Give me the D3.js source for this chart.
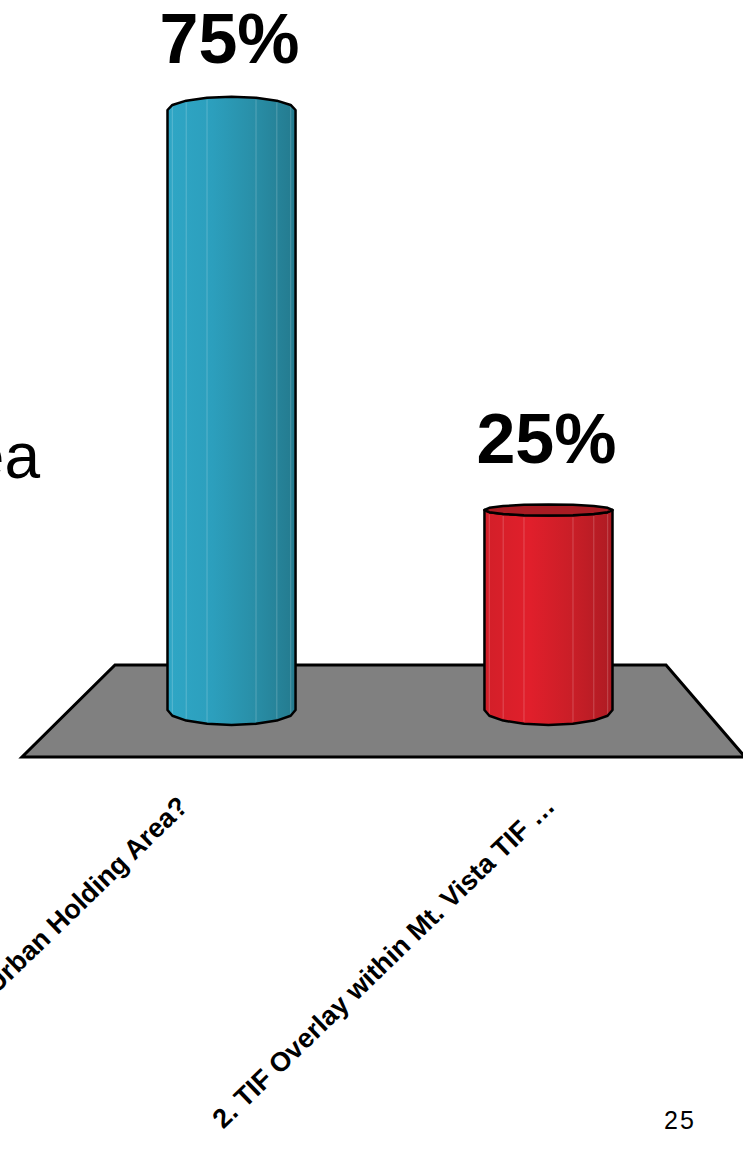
<!DOCTYPE html>
<html>
<head>
<meta charset="utf-8">
<script src="https://cdnjs.cloudflare.com/ajax/libs/d3/7.8.5/d3.min.js"></script>
<style>
  html, body { margin: 0; padding: 0; background: #ffffff; }
  svg { display: block; }
</style>
</head>
<body>
<script>
// ---- data ----
const categories = ["1. Urban Holding Area?", "2. TIF Overlay within Mt. Vista TIF \u2026"];
const values = [75, 25];
const valueLabels = ["75%", "25%"];
const sideText = "Area";
const pageNumber = "25";

// ---- styles / layout constants ----
const W = 752, H = 1150;
const barGradients = [
  [["0%", "#2fa6c5"], ["35%", "#2c9fbd"], ["65%", "#2990a9"], ["100%", "#247a8e"]],
  [["0%", "#d21f29"], ["35%", "#e11f2b"], ["70%", "#c81e27"], ["100%", "#ae1b23"]]
];
const topFaceColors = ["#1f7386", "#a81c23"];
const labelDx = [-42, 8];
const eyeY = 391, persp = 0.047;

const svg = d3.select("body").append("svg")
  .attr("width", W).attr("height", H)
  .style("font-family", "'Liberation Sans', Arial, sans-serif");

svg.append("rect").attr("width", W).attr("height", H).attr("fill", "#fff");

const defs = svg.append("defs");
defs.append("clipPath").attr("id", "clip")
  .append("rect").attr("x", 0).attr("y", 0).attr("width", 743).attr("height", H);

const g = svg.append("g").attr("clip-path", "url(#clip)");

const x = d3.scaleBand().domain(categories).range([167.5, 612.5]).paddingInner(0.596);
const y = d3.scaleLinear().domain([0, 75]).range([710, 110]);

// floor
const floorBack = y(0) - 45, floorFront = y(0) + 47;
const floor = [[115, floorBack], [666, floorBack], [745, floorFront], [22, floorFront]];
g.append("path")
  .attr("d", d3.line()(floor) + "Z")
  .attr("fill", "#808080")
  .attr("stroke", "#000")
  .attr("stroke-width", 3)
  .attr("stroke-linejoin", "miter");

// gradients
barGradients.forEach((stops, i) => {
  const lg = defs.append("linearGradient").attr("id", "bar" + i)
    .attr("x1", "0%").attr("x2", "100%").attr("y1", "0%").attr("y2", "0%");
  stops.forEach(s => lg.append("stop").attr("offset", s[0]).attr("stop-color", s[1]));
});

const ryAt = yy => persp * Math.abs(yy - eyeY);
const step = 22.5;
const angles = d3.range(0, 180 + 0.001, step);

categories.forEach((c, i) => {
  const x0 = x(c), x1 = x(c) + x.bandwidth();
  const cx = (x0 + x1) / 2, rx = x.bandwidth() / 2;
  const yB = y(0), yT = y(values[i]);
  const ryB = ryAt(yB), ryT = ryAt(yT);
  const above = yT < eyeY;

  const pts = [];
  pts.push([x0, yT], [x0, yB]);
  angles.slice().reverse().forEach(a => {
    const r = a * Math.PI / 180;
    pts.push([cx + rx * Math.cos(r), yB + ryB * Math.sin(r)]);
  });
  pts.push([x1, yT]);
  angles.forEach(a => {
    const r = a * Math.PI / 180;
    pts.push([cx + rx * Math.cos(r), yT + (above ? -1 : 1) * ryT * Math.sin(r)]);
  });

  const bar = g.append("g");
  bar.append("path")
    .attr("d", d3.line()(pts) + "Z")
    .attr("fill", `url(#bar${i})`);

  // facet lines
  [157.5, 135, 112.5, 67.5, 45, 22.5].forEach(a => {
    const r = a * Math.PI / 180;
    const fx = cx + rx * Math.cos(r);
    const ty = yT + (above ? -1 : 1) * ryT * Math.sin(r);
    const by = yB + ryB * Math.sin(r);
    bar.append("line")
      .attr("x1", fx).attr("x2", fx).attr("y1", ty + 2).attr("y2", by - 2)
      .attr("stroke", "#ffffff").attr("stroke-opacity", 0.18).attr("stroke-width", 1.2);
  });

  bar.append("path")
    .attr("d", d3.line()(pts) + "Z")
    .attr("fill", "none")
    .attr("stroke", "#000").attr("stroke-width", 2.5).attr("stroke-linejoin", "round");

  if (!above) {
    const face = d3.range(0, 360, step).map(a => {
      const r = a * Math.PI / 180;
      return [cx + rx * Math.cos(r), yT + ryT * Math.sin(r)];
    });
    bar.append("path")
      .attr("d", d3.line()(face) + "Z")
      .attr("fill", topFaceColors[i])
      .attr("stroke", "#000").attr("stroke-width", 2.5).attr("stroke-linejoin", "round");
  }

  // value label
  g.append("text")
    .attr("x", cx - 2)
    .attr("y", yT - 47)
    .attr("text-anchor", "middle")
    .attr("font-weight", "bold")
    .attr("font-size", 70)
    .attr("fill", "#000")
    .text(valueLabels[i]);

  // category label
  const lx = cx + labelDx[i], ly = 808;
  g.append("text")
    .attr("transform", `translate(${lx},${ly}) rotate(-44)`)
    .attr("text-anchor", "end")
    .attr("font-weight", "bold")
    .attr("font-size", 27)
    .attr("fill", "#000")
    .text(c);
});

// partial side text
g.append("text")
  .attr("x", 40).attr("y", 478)
  .attr("text-anchor", "end")
  .attr("font-size", 64)
  .attr("fill", "#000")
  .text(sideText);

// page number
g.append("text")
  .attr("x", 664).attr("y", 1129)
  .attr("font-size", 25)
  .attr("letter-spacing", 2)
  .attr("fill", "#000")
  .text(pageNumber);
</script>
</body>
</html>
